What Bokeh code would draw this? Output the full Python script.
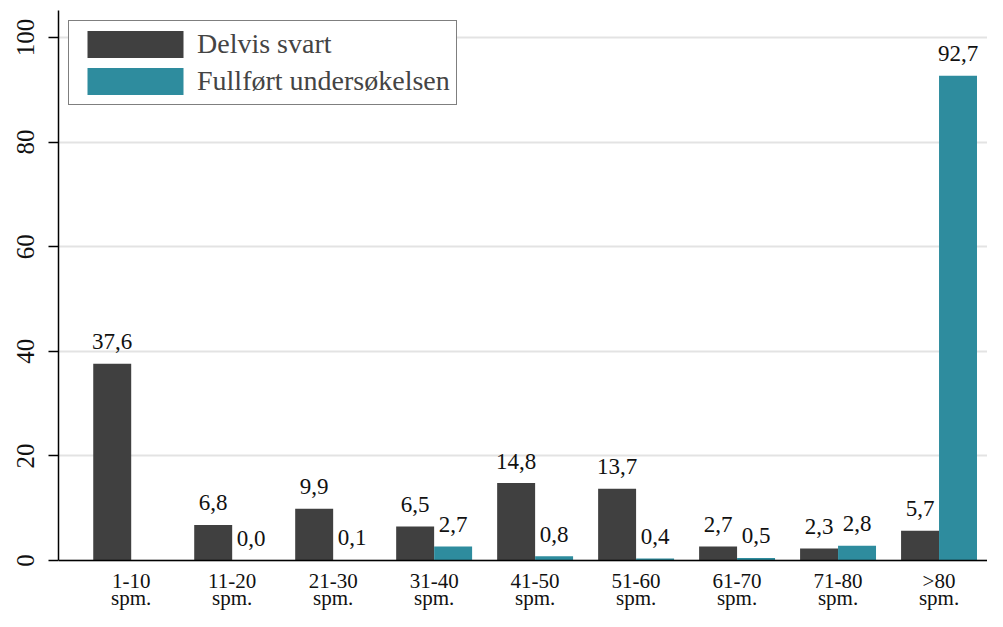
from bokeh.plotting import figure
from bokeh.models import ColumnDataSource, FixedTicker, Range1d, Legend, LegendItem, Span
from bokeh.embed import file_html
from bokeh.resources import INLINE
from bokeh.core.properties import value

cat_ranges = ["1-10", "11-20", "21-30", "31-40", "41-50", "51-60", "61-70", "71-80", ">80"]
cat_unit = ["spm."] * len(cat_ranges)
delvis = [37.6, 6.8, 9.9, 6.5, 14.8, 13.7, 2.7, 2.3, 5.7]
fullfort = [None, 0.0, 0.1, 2.7, 0.8, 0.4, 0.5, 2.8, 92.7]
series_names = ["Delvis svart", "Fullført undersøkelsen"]
y_ticks = [0, 20, 40, 60, 80, 100]

DARK = "#404040"
TEAL = "#2e8c9e"
FONT = "Liberation Serif"
BW = 0.376

idx = list(range(len(cat_ranges)))

def fmt(v):
    return f"{v:.1f}".replace(".", ",")

src_d = ColumnDataSource(dict(x=[i - BW / 2 for i in idx], top=delvis,
                              lab=[fmt(v) for v in delvis]))
fx, ft, fl = [], [], []
for i, v in zip(idx, fullfort):
    if v is not None:
        fx.append(i + BW / 2); ft.append(v); fl.append(fmt(v))
src_f = ColumnDataSource(dict(x=fx, top=ft, lab=fl))
src_c = ColumnDataSource(dict(x=idx, y=[0] * len(idx), lab1=cat_ranges, lab2=cat_unit))

p = figure(width=987, height=611, output_backend="svg", toolbar_location=None,
           x_range=Range1d(-0.72, 8.48), y_range=Range1d(-9.75, 105.16),
           x_axis_location=None,
           min_border_left=58, min_border_top=10, min_border_right=0, min_border_bottom=0)
p.outline_line_color = None
p.background_fill_color = "white"
p.border_fill_color = "white"

p.xgrid.grid_line_color = None
p.ygrid.grid_line_color = "#e3e3e3"
p.ygrid.grid_line_width = 2
p.ygrid.ticker = FixedTicker(ticks=y_ticks)

r1 = p.vbar(x="x", top="top", width=BW, bottom=0, source=src_d, fill_color=DARK, line_color=None)
r2 = p.vbar(x="x", top="top", width=BW, bottom=0, source=src_f, fill_color=TEAL, line_color=None)

for s in (src_d, src_f):
    p.text(x="x", y="top", text="lab", source=s, text_align="center", text_baseline="alphabetic",
           y_offset=-22, text_font=value(FONT), text_font_size="23px", text_color="#111111")

# category axis (x axis line at y = 0, two-line category labels)
p.add_layout(Span(location=0, dimension="width", line_color="black", line_width=1.5))
p.text(x="x", y="y", text="lab1", source=src_c, text_align="center", text_baseline="alphabetic",
       y_offset=20, text_font=value(FONT), text_font_size="21px", text_color="#111111")
p.text(x="x", y="y", text="lab2", source=src_c, text_align="center", text_baseline="alphabetic",
       y_offset=37, text_font=value(FONT), text_font_size="21px", text_color="#111111")

p.yaxis.ticker = FixedTicker(ticks=y_ticks)
p.yaxis.bounds = (0, 105.16)
p.yaxis.major_tick_out = 10
p.yaxis.major_tick_in = 0
p.yaxis.minor_tick_line_color = None
p.yaxis.axis_line_color = "black"
p.yaxis.axis_line_width = 1.5
p.yaxis.major_tick_line_width = 1.5
p.yaxis.major_label_orientation = "vertical"
p.yaxis.major_label_text_font = FONT
p.yaxis.major_label_text_font_size = "25px"
p.yaxis.major_label_text_color = "#111111"
p.yaxis.major_label_standoff = 14

legend = Legend(items=[LegendItem(label=series_names[0], renderers=[r1]),
                       LegendItem(label=series_names[1], renderers=[r2])],
                location="top_left", margin=10, padding=6, spacing=3,
                glyph_width=120, glyph_height=34, label_standoff=2,
                label_text_font=FONT, label_text_font_size="28px",
                label_text_baseline="middle",
                border_line_color="black", border_line_width=1.5,
                background_fill_color="white", background_fill_alpha=1.0)
p.add_layout(legend)

open("out.html", "w").write(file_html(p, INLINE))
